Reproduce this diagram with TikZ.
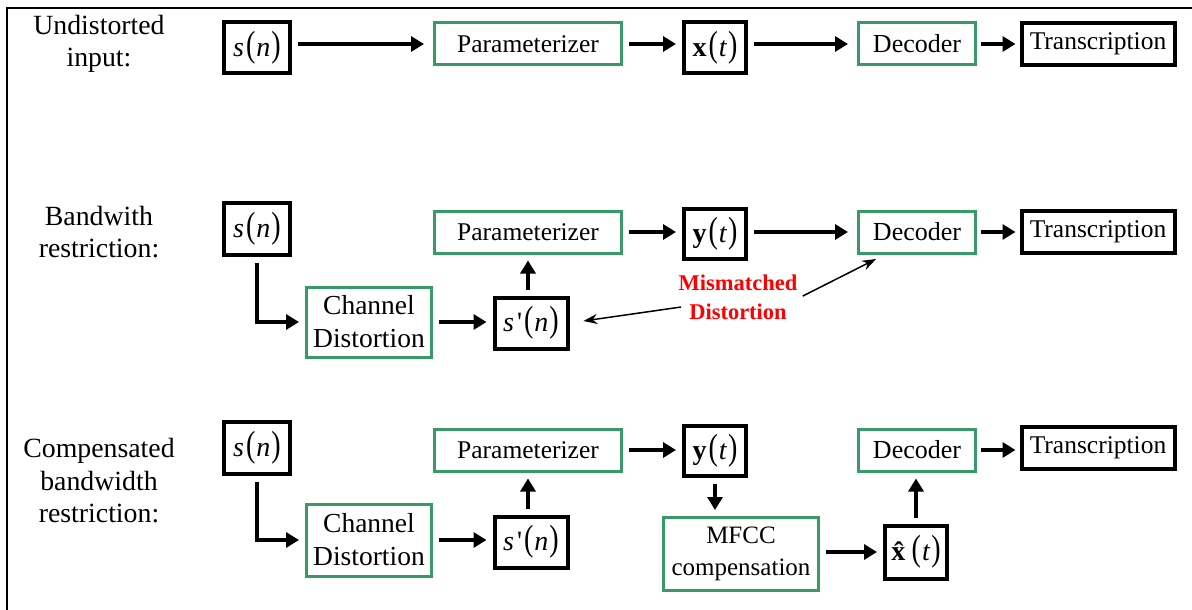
\documentclass[tikz,border=0pt]{standalone}
\usepackage{fontspec}
\usepackage{graphicx}
\setmainfont{Liberation Serif}
\newfontfamily\rawserif{Liberation Serif}[Ligatures=TeXOff]
\usetikzlibrary{arrows.meta,calc}
\definecolor{boxgreen}{RGB}{56,154,104}
\definecolor{mmred}{RGB}{255,0,0}
\newcommand{\lpar}{\hspace{2pt}\scalebox{1}[1.3]{(}\hspace{1pt}}
\newcommand{\rpar}{\hspace{1pt}\scalebox{1}[1.3]{)}}
\newcommand{\sq}{\hspace{3pt}{\rawserif'}}
\begin{document}
\begin{tikzpicture}[x=1pt,y=-1pt,
 blk/.style={draw=black,line width=4pt,inner sep=0pt,font=\fontsize{28}{32}\selectfont},
 grn/.style={draw=boxgreen,line width=3pt,inner sep=0pt,align=center,font=\fontsize{26}{33}\selectfont},
 trans/.style={draw=black,line width=4pt,inner sep=0pt,font=\fontsize{25.5}{30}\selectfont},
 lbl/.style={align=center,font=\fontsize{27.8}{32.5}\selectfont},
 arr/.style={line width=3.5pt,-{Triangle[length=13pt,width=15pt]},shorten <=6pt,shorten >=6pt},
 thinarr/.style={line width=1.5pt,-{Stealth[length=14pt,width=10pt]}},
]
\useasboundingbox (0,0) rectangle (1192,610);
\clip (0,0) rectangle (1192,610);
\draw[line width=1.5pt] (7,8) rectangle (1200,620);

% Row 1
\node[lbl] (l1) at (99,44) {Undistorted\\input:};
\node[blk,minimum width=66pt,minimum height=51pt] (s1) at (257,48) {\textit{s}\lpar\textit{n}\rpar};
\node[grn,font=\fontsize{25.5}{33}\selectfont,minimum width=187pt,minimum height=42pt] (p1) at (528,44) {Parameterizer};
\node[blk,minimum width=62pt,minimum height=51pt] (x1) at (715,48) {\textbf{x}\lpar\textit{t}\rpar};
\node[grn,minimum width=117pt,minimum height=42pt] (d1) at (917,44) {Decoder};
\node[trans,minimum width=153pt,minimum height=42pt] (t1) at (1098,44) {Transcription};
\draw[arr,shorten >=9pt] (s1.east |- p1.west) -- (p1.west);
\draw[arr] (p1.east) -- (x1.west |- p1.east);
\draw[arr,shorten >=9pt] (x1.east |- d1.west) -- (d1.west);
\draw[arr,shorten <=4pt,shorten >=4pt] (d1.east) -- (t1.west);

% Row 2
\node[lbl] (l2) at (99,232) {Bandwith\\restriction:};
\node[blk,minimum width=66pt,minimum height=52pt] (s2) at (257,229) {\textit{s}\lpar\textit{n}\rpar};
\node[grn,font=\fontsize{25.5}{33}\selectfont,minimum width=187pt,minimum height=42pt] (p2) at (528,232) {Parameterizer};
\node[blk,minimum width=62pt,minimum height=50pt] (y2) at (715,234) {\textbf{y}\lpar\textit{t}\rpar};
\node[grn,minimum width=117pt,minimum height=42pt] (d2) at (917,232) {Decoder};
\node[trans,minimum width=153pt,minimum height=42pt] (t2) at (1098,232) {Transcription};
\node[grn,font=\fontsize{27.5}{33}\selectfont,minimum width=125pt,minimum height=70pt] (c2) at (369,322) {Channel\\Distortion};
\node[blk,minimum width=73pt,minimum height=51pt] (sp2) at (531,323) {\textit{s}\sq\lpar\textit{n}\rpar};
\draw[arr] (s2.south) |- (c2.west);
\draw[arr] (c2.east) -- (sp2.west |- c2.east);
\draw[arr] (sp2.north -| p2.south) -- (p2.south);
\draw[arr] (p2.east) -- (y2.west |- p2.east);
\draw[arr,shorten >=9pt] (y2.east |- d2.west) -- (d2.west);
\draw[arr,shorten <=4pt,shorten >=4pt] (d2.east) -- (t2.west);
\node[align=center,text=mmred,font=\bfseries\fontsize{22.5}{29}\selectfont] (mm) at (738,297) {Mismatched\\Distortion};
\draw[thinarr,shorten >=14pt] ([yshift=-10pt,xshift=6pt]mm.west) -- (sp2.east);
\draw[thinarr,shorten <=2pt,shorten >=10pt] (mm.east) -- ([xshift=-32pt]d2.south);

% Row 3
\node[lbl] (l3) at (99,481) {Compensated\\bandwidth\\restriction:};
\node[blk,minimum width=66pt,minimum height=52pt] (s3) at (257,448) {\textit{s}\lpar\textit{n}\rpar};
\node[grn,font=\fontsize{25.5}{33}\selectfont,minimum width=187pt,minimum height=42pt] (p3) at (528,450) {Parameterizer};
\node[blk,minimum width=62pt,minimum height=50pt] (y3) at (715,451) {\textbf{y}\lpar\textit{t}\rpar};
\node[grn,minimum width=117pt,minimum height=42pt] (d3) at (917,450) {Decoder};
\node[trans,minimum width=153pt,minimum height=42pt] (t3) at (1098,448) {Transcription};
\node[grn,font=\fontsize{27.5}{33}\selectfont,minimum width=125pt,minimum height=72pt] (c3) at (369,540) {Channel\\Distortion};
\node[blk,minimum width=73pt,minimum height=51pt] (sp3) at (531,542) {\textit{s}\sq\lpar\textit{n}\rpar};
\node[grn,font=\fontsize{25}{32}\selectfont,minimum width=155pt,minimum height=73pt] (m3) at (741,554) {MFCC\\compensation};
\node[blk,minimum width=62pt,minimum height=53pt] (xh3) at (916,552) {\textbf{\^{x}}\lpar\textit{t}\rpar};
\draw[arr] (s3.south) |- (c3.west);
\draw[arr] (c3.east) -- (sp3.west |- c3.east);
\draw[arr] (sp3.north -| p3.south) -- (p3.south);
\draw[arr] (p3.east) -- (y3.west |- p3.east);
\draw[arr] (y3.south) -- (y3.south |- m3.north);
\draw[arr] (m3.east |- xh3.west) -- (xh3.west);
\draw[arr] (xh3.north) -- (xh3.north |- d3.south);
\draw[arr,shorten <=4pt,shorten >=4pt] (d3.east) -- (t3.west |- d3.east);
\end{tikzpicture}
\end{document}
